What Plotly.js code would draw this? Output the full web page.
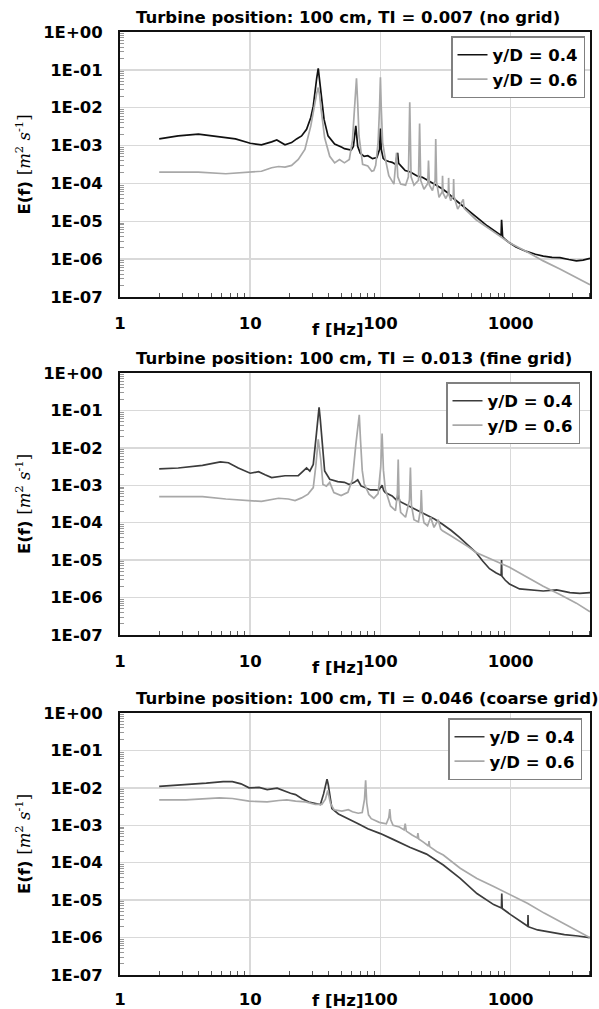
<!DOCTYPE html>
<html>
<head>
<meta charset="utf-8">
<script src="https://cdn.plot.ly/plotly-3.0.1.min.js"></script>
<style>
  html, body { margin: 0; padding: 0; background: #fff; }
  #chart { width: 599px; height: 1009px; }
</style>
</head>
<body>
<div id="chart"></div>
<script>
// Power spectra E(f) of the streamwise velocity behind the turbine (position 100 cm)

const titles = [
  'Turbine position: 100 cm, TI = 0.007 (no grid)',
  'Turbine position: 100 cm, TI = 0.013 (fine grid)',
  'Turbine position: 100 cm, TI = 0.046 (coarse grid)'
];
const seriesNames = ['y/D = 0.4', 'y/D = 0.6'];
const xTickVals = [1, 10, 100, 1000];
const xTickText = ['1', '10', '100', '1000'];
const yTickVals = [1e-7, 1e-6, 1e-5, 1e-4, 1e-3, 1e-2, 1e-1, 1];
const yTickText = ['1E-07', '1E-06', '1E-05', '1E-04', '1E-03', '1E-02', '1E-01', '1E+00'];

// --- no grid, y/D = 0.4
const f1a = [2, 2.8, 4, 5.7, 7.7, 10, 12.2, 14.6, 16, 18.5, 20.8, 22.7, 24.8, 27.1, 29.2, 30.5, 31.3, 32.4, 33.3, 34.1, 34.8, 36, 36.9, 39.6, 44.5, 50.6, 52.9, 59.7, 62, 64.7, 66.9, 70, 75, 80, 87, 94, 98.5, 100, 101.5, 105, 109, 116, 123, 130.6, 133, 135.5, 138, 145, 155, 170, 190, 210, 223, 250, 275, 300, 330, 365, 403, 450, 500, 543, 600, 660, 727, 790, 845, 852, 858, 868, 920, 980, 1100, 1320, 1550, 1780, 2080, 2390, 2800, 3200, 3600, 4070];
const e1a = [1.5e-3, 1.8e-3, 2.0e-3, 1.7e-3, 1.5e-3, 1.15e-3, 1.05e-3, 1.25e-3, 1.4e-3, 1.05e-3, 1.2e-3, 1.5e-3, 1.8e-3, 2.7e-3, 5.5e-3, 1.1e-2, 2.5e-2, 6e-2, 0.11, 5.5e-2, 2.5e-2, 9e-3, 4.9e-3, 1.8e-3, 1.1e-3, 9e-4, 8.3e-4, 7.6e-4, 9.5e-4, 3.3e-3, 9.5e-4, 6.3e-4, 5.2e-4, 5.4e-4, 4.5e-4, 4.8e-4, 8e-4, 2.8e-3, 8e-4, 4.6e-4, 4.1e-4, 3.8e-4, 3.6e-4, 3.2e-4, 4.2e-4, 6.4e-4, 3.4e-4, 2.8e-4, 2.2e-4, 2.0e-4, 1.6e-4, 1.45e-4, 1.3e-4, 1.05e-4, 8.6e-5, 7.1e-5, 5.6e-5, 4.0e-5, 3.0e-5, 2.2e-5, 1.7e-5, 1.3e-5, 1.0e-5, 7.6e-6, 6.0e-6, 4.9e-6, 4.2e-6, 1.1e-5, 4.1e-6, 3.9e-6, 3.2e-6, 2.7e-6, 2.1e-6, 1.6e-6, 1.35e-6, 1.2e-6, 1.12e-6, 1.1e-6, 9.8e-7, 9.0e-7, 9.4e-7, 1.05e-6];

// --- no grid, y/D = 0.6
const f1b = [2, 4, 6.5, 10, 12.2, 14.6, 16.5, 18.5, 20.8, 23.4, 26.3, 29.2, 31.3, 32.4, 33.3, 34.1, 34.8, 37.3, 40.8, 44.5, 48.5, 52.9, 57.7, 61, 63.5, 65.5, 67, 68.5, 73, 80, 85.8, 89, 92, 96, 98.5, 100, 101.5, 104, 109, 116, 127, 133, 136, 143, 156, 164, 168, 172, 181, 196, 200, 204, 216, 231, 234, 238, 251, 263, 266, 270, 282, 298, 300, 303, 318, 332, 334, 337, 347, 363, 365, 368, 392, 433, 440, 454, 543, 727, 980, 1320, 1780, 2390, 3200, 4070];
const e1b = [2.0e-4, 2.0e-4, 1.8e-4, 2.0e-4, 2.1e-4, 2.6e-4, 2.8e-4, 2.7e-4, 3.0e-4, 4.3e-4, 7.9e-4, 3.3e-3, 1.4e-2, 2.4e-2, 3.4e-2, 2.2e-2, 1.1e-2, 1.6e-3, 5.2e-4, 3.5e-4, 4.3e-4, 3.5e-4, 4.3e-4, 1.4e-3, 1.2e-2, 6e-2, 1.2e-2, 1.8e-3, 3.2e-4, 2.9e-4, 2.1e-4, 2.2e-4, 3e-4, 1.2e-3, 1e-2, 6.4e-2, 1e-2, 1.2e-3, 4.5e-4, 1.6e-4, 9.6e-5, 6.4e-4, 1.5e-4, 9.6e-5, 9e-5, 1.5e-4, 1.4e-2, 1.5e-4, 9e-5, 1.2e-4, 3.8e-3, 1.2e-4, 7e-5, 1e-4, 4e-4, 9e-5, 6.5e-5, 1.2e-4, 1.5e-3, 1.1e-4, 4.3e-5, 6e-5, 1.6e-4, 5.5e-5, 4e-5, 5.5e-5, 1.4e-4, 5e-5, 3.5e-5, 5e-5, 1.3e-4, 4.5e-5, 2.1e-5, 3.8e-5, 2.2e-5, 2e-5, 1.1e-5, 5.5e-6, 2.7e-6, 1.6e-6, 9e-7, 5.5e-7, 3.2e-7, 2.1e-7];

// --- fine grid, y/D = 0.4
const f2a = [2, 2.8, 4.3, 5.9, 6.8, 8.1, 10, 11.6, 13, 14.6, 18.5, 23.4, 25.5, 27.1, 28.7, 30.5, 32.3, 33.1, 33.8, 34.5, 35.3, 37.3, 40.8, 47, 52.9, 57.7, 63, 66.9, 71, 75, 80, 84, 90, 97, 103, 106, 109, 123, 133, 137, 141, 166, 190, 223, 260, 300, 350, 403, 470, 543, 610, 688, 770, 845, 852, 858, 910, 980, 1170, 1400, 1780, 2260, 2850, 3400, 4070];
const e2a = [2.75e-3, 2.9e-3, 3.4e-3, 4.2e-3, 4.0e-3, 2.9e-3, 2.1e-3, 2.3e-3, 1.9e-3, 1.6e-3, 1.8e-3, 1.8e-3, 2.4e-3, 2.9e-3, 2.4e-3, 3.6e-3, 2.5e-2, 7e-2, 0.12, 6e-2, 2.0e-2, 2.4e-3, 1.45e-3, 1.25e-3, 1.2e-3, 1.05e-3, 1.2e-3, 1.4e-3, 9.6e-4, 8.8e-4, 8e-4, 7.5e-4, 7.5e-4, 7.4e-4, 1e-3, 7.2e-4, 6.4e-4, 5.2e-4, 4e-4, 5.5e-4, 3.7e-4, 2.8e-4, 2.2e-4, 1.7e-4, 1.25e-4, 9.1e-5, 6.2e-5, 4.1e-5, 2.6e-5, 1.6e-5, 9.5e-6, 5.9e-6, 4.6e-6, 3.9e-6, 1e-5, 3.7e-6, 2.9e-6, 2.3e-6, 1.7e-6, 1.6e-6, 1.5e-6, 1.6e-6, 1.35e-6, 1.3e-6, 1.35e-6];

// --- fine grid, y/D = 0.6
const f2b = [2, 4.3, 6.5, 10, 12.2, 16.5, 19.6, 22.1, 24.8, 27.8, 30.5, 31.9, 33.3, 34.8, 36.2, 38.5, 40.8, 43.9, 49.9, 56.3, 61, 64.7, 67.5, 68.8, 70.4, 72.5, 75, 81.7, 89, 96, 100.5, 103, 105.5, 109, 119.5, 130.6, 135, 137, 139, 143, 156, 167, 170, 173, 181, 196, 204, 206, 209, 216, 230, 243, 258, 278, 290, 300, 350, 403, 470, 543, 727, 980, 1320, 1780, 2390, 3200, 4070];
const e2b = [5e-4, 5e-4, 4.3e-4, 4e-4, 3.7e-4, 4.5e-4, 4.3e-4, 3.9e-4, 4.6e-4, 5.8e-4, 8.7e-4, 3.3e-3, 1.7e-2, 4.9e-3, 1.05e-3, 9.5e-4, 1.2e-3, 6.4e-4, 5.3e-4, 6.5e-4, 1.45e-3, 1.2e-2, 5e-2, 7.6e-2, 1.5e-2, 2.5e-3, 1.1e-3, 5.8e-4, 4.5e-4, 6e-4, 3e-3, 2.4e-2, 2.5e-3, 7.8e-4, 2.8e-4, 2.1e-4, 6e-4, 4.9e-3, 5e-4, 1.9e-4, 1.4e-4, 4e-4, 3.0e-3, 3e-4, 1.2e-4, 1.05e-4, 2.5e-4, 7.5e-4, 2e-4, 1e-4, 8.3e-5, 1.4e-4, 7.5e-5, 1.2e-4, 6.8e-5, 6.1e-5, 4.4e-5, 3.3e-5, 2.3e-5, 1.6e-5, 1.0e-5, 6.5e-6, 3.6e-6, 2.0e-6, 1.2e-6, 7.1e-7, 4.2e-7];

// --- coarse grid, y/D = 0.4
const f3a = [2, 3.2, 4.6, 6.2, 7.3, 8.5, 9.8, 11.7, 13.5, 16.1, 18.2, 20.4, 22.3, 25, 28.2, 31.6, 34.6, 36.6, 38.3, 38.9, 39.8, 40.8, 42.4, 47.6, 53.4, 60, 67.5, 80, 100, 125, 168, 226, 304, 410, 551, 741, 850, 855, 862, 1000, 1195, 1355, 1360, 1367, 1610, 2040, 2590, 3290, 4050];
const e3a = [1.1e-2, 1.2e-2, 1.33e-2, 1.47e-2, 1.47e-2, 1.28e-2, 1.0e-2, 1.03e-2, 9e-3, 9.8e-3, 8.2e-3, 7.2e-3, 6.6e-3, 5.1e-3, 4.2e-3, 3.8e-3, 3.6e-3, 6.9e-3, 1.4e-2, 1.7e-2, 1.2e-2, 6e-3, 2.8e-3, 2.0e-3, 1.66e-3, 1.36e-3, 1.1e-3, 8.1e-4, 6e-4, 4.2e-4, 2.6e-4, 1.7e-4, 8.7e-5, 3.8e-5, 1.5e-5, 7.6e-6, 6.2e-6, 1.5e-5, 6e-6, 4.1e-6, 2.7e-6, 2e-6, 4e-6, 1.95e-6, 1.6e-6, 1.4e-6, 1.2e-6, 1.1e-6, 1.0e-6];

// --- coarse grid, y/D = 0.6
const f3b = [2, 3.2, 5.8, 7.3, 9.8, 13.5, 16.6, 19.1, 22.3, 26.6, 31.6, 35.5, 37.8, 39.4, 41.3, 44, 50.6, 56.7, 61, 67.5, 72.5, 75.5, 77, 78.5, 81, 85, 98, 111, 116, 118, 120, 125, 140, 152, 155, 158, 175, 192, 194, 197, 215, 234, 236, 239, 270, 304, 410, 551, 741, 1000, 1345, 1810, 2440, 3280, 4050];
const e3b = [4.8e-3, 4.8e-3, 5.4e-3, 5.2e-3, 4.4e-3, 4.2e-3, 4.6e-3, 4.8e-3, 4.4e-3, 4.2e-3, 3.6e-3, 3.6e-3, 5e-3, 8.5e-3, 3.9e-3, 2.6e-3, 2.4e-3, 2.6e-3, 2.3e-3, 2.1e-3, 2.2e-3, 5e-3, 1.6e-2, 4e-3, 1.9e-3, 1.5e-3, 1.2e-3, 1.1e-3, 1.6e-3, 2.7e-3, 1.4e-3, 1.0e-3, 9e-4, 7.5e-4, 1.1e-3, 7e-4, 5.5e-4, 4.6e-4, 6.2e-4, 4.3e-4, 3.5e-4, 2.8e-4, 3.8e-4, 2.7e-4, 2e-4, 1.6e-4, 7.1e-5, 3.8e-5, 2.3e-5, 1.4e-5, 8.3e-6, 4.5e-6, 2.6e-6, 1.5e-6, 1.0e-6];

// ---------------------------------------------------------------------------
const W = 599, H = 1009;
const plotLeft = 120, plotRight = 590;
const panels = [
  { top: 32,  bottom: 297, legendTop: 36,  legendRight: 585, dark: '#111111', xTitleGap: 32 },
  { top: 373, bottom: 635, legendTop: 382, legendRight: 580, dark: '#3c3c3c', xTitleGap: 32 },
  { top: 713, bottom: 975, legendTop: 718, legendRight: 582, dark: '#3c3c3c', xTitleGap: 25 }
];
const lightColor = '#a8a8a8';
const dataSets = [[f1a, e1a, f1b, e1b], [f2a, e2a, f2b, e2b], [f3a, e3a, f3b, e3b]];

const px = x => x / W;
const py = y => 1 - y / H;

const baseFont = { family: 'DejaVu Sans', size: 16.5, color: '#000', weight: 'bold' };

// minor tick positions 2..9 within each decade
const xMinor = [], yMinor = [];
for (let k = 0; k <= 3; k++) for (let m = 2; m <= 9; m++) { const v = m * Math.pow(10, k); if (v < 4070) xMinor.push(v); }
for (let k = -7; k <= -1; k++) for (let m = 2; m <= 9; m++) yMinor.push(m * Math.pow(10, k));

const traces = [];
const layout = {
  width: W, height: H,
  margin: { l: 0, r: 0, t: 0, b: 0 },
  paper_bgcolor: '#fff', plot_bgcolor: '#fff',
  showlegend: true,
  annotations: []
};

panels.forEach((p, i) => {
  const n = i === 0 ? '' : String(i + 1);
  const [fa, ea, fb, eb] = dataSets[i];
  const legendId = 'legend' + n;
  traces.push({
    x: fa, y: ea, type: 'scatter', mode: 'lines', name: seriesNames[0],
    xaxis: 'x' + n, yaxis: 'y' + n, legend: legendId,
    line: { color: p.dark, width: 1.7 }
  });
  traces.push({
    x: fb, y: eb, type: 'scatter', mode: 'lines', name: seriesNames[1],
    xaxis: 'x' + n, yaxis: 'y' + n, legend: legendId,
    line: { color: lightColor, width: 1.7 }
  });

  layout['xaxis' + n] = {
    type: 'log', domain: [px(plotLeft), px(plotRight)], anchor: 'y' + n,
    range: [0, Math.log10(4070)], tickmode: 'array', tickvals: xTickVals, ticktext: xTickText,
    ticks: '', ticklabelstandoff: i === 2 ? 8 : 10, tickfont: baseFont,
    showgrid: true, gridcolor: '#d9d9d9', gridwidth: 1.5,
    showline: true, linecolor: '#111', linewidth: 2, mirror: true, zeroline: false,
    minor: { tickmode: 'array', tickvals: xMinor, ticks: 'inside', ticklen: 4, tickcolor: '#555', showgrid: false },
    fixedrange: true
  };
  layout['yaxis' + n] = {
    type: 'log', domain: [py(p.bottom), py(p.top)], anchor: 'x' + n,
    range: [-7, 0], tickmode: 'array', tickvals: yTickVals, ticktext: yTickText,
    ticks: '', ticklabelstandoff: 12, tickfont: baseFont,
    showgrid: true, gridcolor: '#d9d9d9', gridwidth: 1.5,
    showline: true, linecolor: '#111', linewidth: 2, mirror: true, zeroline: false,
    minor: { tickmode: 'array', tickvals: yMinor, ticks: 'inside', ticklen: 4, tickcolor: '#999', showgrid: false },
    fixedrange: true
  };
  layout[legendId] = {
    x: px(p.legendRight), xanchor: 'right', y: py(p.legendTop), yanchor: 'top',
    bgcolor: '#fff', bordercolor: '#808080', borderwidth: 1.5,
    font: baseFont, traceorder: 'normal'
  };

  // panel title
  layout.annotations.push({
    xref: 'paper', yref: 'paper', x: px(134), y: py(p.top - 15),
    xanchor: 'left', yanchor: 'middle', showarrow: false,
    text: titles[i], font: baseFont
  });
  // x axis title
  layout.annotations.push({
    xref: 'paper', yref: 'paper', x: px(337), y: py(p.bottom + p.xTitleGap),
    xanchor: 'center', yanchor: 'middle', showarrow: false,
    text: 'f [Hz]', font: baseFont
  });
  // y axis title
  layout.annotations.push({
    xref: 'paper', yref: 'paper', x: px(23), y: py((p.top + p.bottom) / 2),
    xanchor: 'center', yanchor: 'middle', showarrow: false, textangle: -90,
    text: 'E(f) <span style="font-family:DejaVu Serif;font-weight:normal">[<i>m</i><sup>2</sup> <i>s</i><sup>-1</sup>]</span>',
    font: baseFont
  });
});

Plotly.newPlot('chart', traces, layout, { staticPlot: true, displayModeBar: false });
</script>
</body>
</html>
